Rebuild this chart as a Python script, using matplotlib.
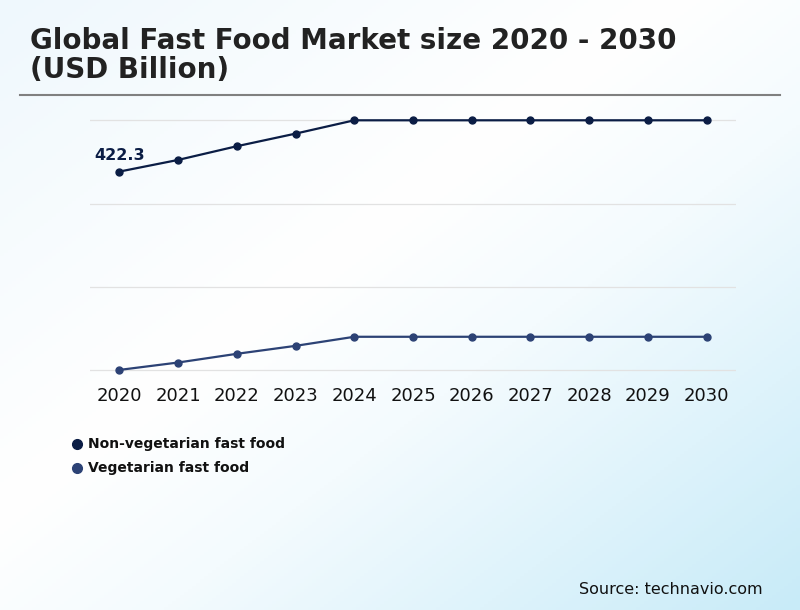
import matplotlib.pyplot as plt
import numpy as np
from matplotlib.colors import LinearSegmentedColormap

plt.rcParams['font.family'] = ['DejaVu Sans']

years = ['2020', '2021', '2022', '2023', '2024', '2025', '2026', '2027', '2028', '2029', '2030']
non_veg = [422.3, 428.6, 436.0, 442.8, 450.0, 450.0, 450.0, 450.0, 450.0, 450.0, 450.0]
veg = [315.2, 319.2, 323.9, 328.2, 333.1, 333.1, 333.1, 333.1, 333.1, 333.1, 333.1]
grid_vals = [315, 360, 405, 450]

c_nonveg = '#0b1d45'
c_veg = '#2c4275'

fig = plt.figure(figsize=(8, 6.1), dpi=100)

# diagonal background gradient: light blue top-left, white middle, blue bottom-right
bg = fig.add_axes([0, 0, 1, 1], zorder=-10)
xx, yy = np.meshgrid(np.linspace(0, 1, 200), np.linspace(0, 1, 200))
grad = (xx + yy) / 2
cmap = LinearSegmentedColormap.from_list(
    'bg', [(0, '#eff8fd'), (0.42, '#ffffff'), (0.6, '#f4fbfe'), (1, '#c8ebf8')])
bg.imshow(grad, cmap=cmap, extent=[0, 1, 0, 1], origin='upper', aspect='auto')
bg.axis('off')

ax = fig.add_axes([90 / 800, 1 - 375 / 610, 646 / 800, 260 / 610])
ax.patch.set_alpha(0)
x = np.arange(len(years))
ax.plot(x, non_veg, color=c_nonveg, lw=1.6, marker='o', ms=5, zorder=3)
ax.plot(x, veg, color=c_veg, lw=1.6, marker='o', ms=5, zorder=3)
ax.set_xlim(-0.5, 10.5)
ax.set_ylim(312.46, 452.86)
ax.set_yticks(grid_vals)
ax.set_yticklabels([])
ax.set_xticks(x)
ax.set_xticklabels(years, fontsize=13, color='#111111')
ax.tick_params(length=0, pad=8.6)
ax.grid(axis='y', color='#e2e2e2', lw=0.9)
for s in ax.spines.values():
    s.set_visible(False)

ax.annotate('422.3', (0, non_veg[0]), xytext=(-18, 6), textcoords='offset points',
            fontsize=11.5, fontweight='bold', color=c_nonveg, va='bottom', ha='left')

# title and separator
fig.text(30 / 800, 1 - 41 / 610, 'Global Fast Food Market size 2020 - 2030',
         fontsize=20, fontweight='bold', color='#222222', va='center')
fig.text(30 / 800, 1 - 70 / 610, '(USD Billion)',
         fontsize=20, fontweight='bold', color='#222222', va='center')
fig.add_artist(plt.Line2D([20 / 800, 780 / 800], [1 - 95 / 610, 1 - 95 / 610],
                          color='#808080', lw=1.5))

# legend
for i, (lab, col) in enumerate([('Non-vegetarian fast food', c_nonveg), ('Vegetarian fast food', c_veg)]):
    yy_ = 1 - (444 + 24 * i) / 610
    fig.add_artist(plt.Line2D([77 / 800], [yy_], marker='o', ms=7, color=col, lw=0))
    fig.text(88 / 800, yy_, lab, fontsize=10, fontweight='bold', color='#111111', va='center')

fig.text(763 / 800, 1 - 589 / 610, 'Source: technavio.com', fontsize=11.5,
         color='#111111', ha='right', va='center')

fig.savefig('out.png', dpi=100)
